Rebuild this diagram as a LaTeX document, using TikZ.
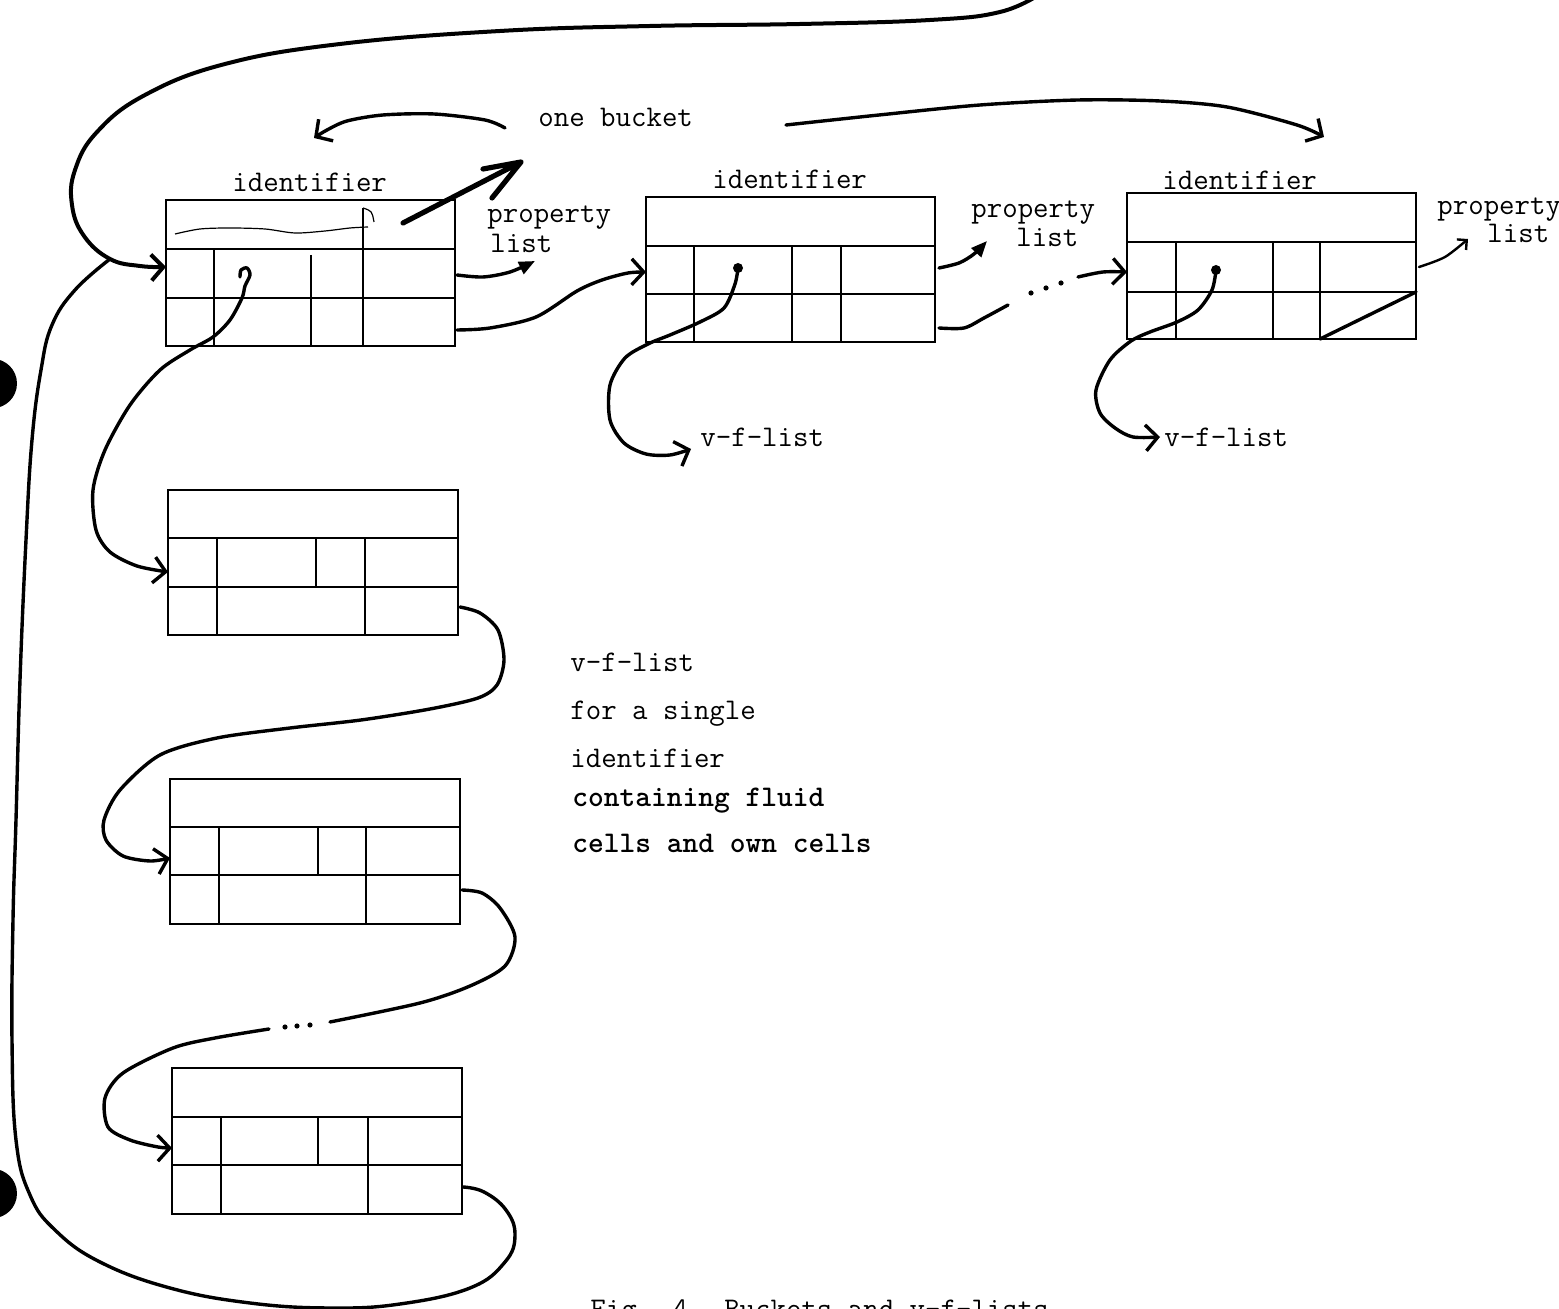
\documentclass[tikz,border=0pt]{standalone}
\usetikzlibrary{arrows.meta,fit}
\newcommand\bbox[5]{%
  \path (#2,#3) coordinate (#1nw) (#4,#5) coordinate (#1se);
  \node[boxline, fit=(#1nw)(#1se), inner sep=0pt] (#1) {};}
\begin{document}
\begin{tikzpicture}[x=0.5pt,y=-0.5pt,
  boxline/.style={draw, line width=1.3pt},
  gridline/.style={line width=1.3pt},
  hand/.style={line width=1.7pt, line cap=round, line join=round},
  barb/.style={-{Straight Barb[length=6pt,width=13pt]}},
  smallbarb/.style={-{Straight Barb[length=3.5pt,width=7pt]}},
  fillhead/.style={-{Triangle[length=8pt,width=6.5pt]}},
  lbl/.style={font=\ttfamily\fontsize{15}{18}\selectfont, inner sep=0pt, anchor=base west},
  blbl/.style={lbl, font=\ttfamily\bfseries\fontsize{15}{18}\selectfont},
]
\clip (0,0) rectangle (1559,1309);
\fill[white] (0,0) rectangle (1559,1309);

% punch holes
\fill (-7.7,383.5) circle[radius=12.35pt];
\fill (-7.7,1193.5) circle[radius=12.35pt];

% ---------- boxes ----------
\bbox{b1}{166}{200}{455}{346}
\draw[gridline] (166,249) -- (455,249) (166,298) -- (455,298)
  (214,249) -- (214,346) (311,255) -- (311,346) (363,249) -- (363,346);
\draw[line width=0.9pt] (363,208) -- (363,249);
\draw[line width=0.6pt] (363,208) .. controls (372,211) .. (374,222);
\draw[line width=0.6pt] plot[smooth] coordinates {(175,234) (200,229) (230,228) (265,229) (295,233) (325,231) (350,228) (368,227)};

\bbox{b2}{646}{197}{935}{342}
\draw[gridline] (646,246) -- (935,246) (646,294) -- (935,294)
  (694,246) -- (694,342) (792,246) -- (792,342) (841,246) -- (841,342);

\bbox{b3}{1127}{193}{1416}{339}
\draw[gridline] (1127,242) -- (1416,242) (1127,292) -- (1416,292)
  (1176,242) -- (1176,339) (1273,242) -- (1273,339) (1320,242) -- (1320,339);
\draw[hand] (1320,339) -- (1416,292);

\bbox{b4}{168}{490}{458}{635}
\draw[gridline] (168,538) -- (458,538) (168,587) -- (458,587)
  (217,538) -- (217,635) (316,538) -- (316,587) (365,538) -- (365,635);

\bbox{b5}{170}{779}{460}{924}
\draw[gridline] (170,827) -- (460,827) (170,875) -- (460,875)
  (219,827) -- (219,924) (318,827) -- (318,875) (366,827) -- (366,924);

\bbox{b6}{172}{1068}{462}{1214}
\draw[gridline] (172,1117) -- (462,1117) (172,1165) -- (462,1165)
  (221,1117) -- (221,1214) (318,1117) -- (318,1165) (368,1117) -- (368,1214);

% ---------- labels ----------
\node[lbl] (ob) at (538,127) {one bucket};
\node[lbl] (id1) at (232,192) {identifier};
\node[lbl] (id2) at (712,189) {identifier};
\node[lbl] (id3) at (1162,190) {identifier};
\node[lbl] (pl1a) at (487,223) {property};
\node[lbl] (pl1b) at (490,253) {list};
\node[lbl] (pl2a) at (971,218) {property};
\node[lbl] (pl2b) at (1016,247) {list};
\node[lbl] (pl3a) at (1437,215) {property};
\node[lbl] (pl3b) at (1487,243) {list};
\node[lbl] (vf1) at (700,447) {v-f-list};
\node[lbl] (vf2) at (1164,447) {v-f-list};
\node[lbl] (t1) at (570,672) {v-f-list};
\node[lbl] (t2) at (570,720) {for a single};
\node[lbl] (t3) at (570,768) {identifier};
\node[blbl] (t4) at (572,807) {containing fluid};
\node[blbl] (t5) at (572,853) {cells and own cells};
\node[lbl] (cap) at (590,1318) {Fig. 4. Buckets and v-f-lists};

% ---------- connector end points ----------
\coordinate (b1in) at (166,267);
\coordinate (b1pl) at (457,275);
\coordinate (b1out) at (457,330);
\coordinate (b1ptr) at (240,277);
\coordinate (b2in) at (646,272);
\coordinate (b2pl) at (939,268);
\coordinate (b2out) at (939,328);
\coordinate (b2ptr) at (738,268);
\coordinate (b3in) at (1127,272);
\coordinate (b3pl) at (1419,267);
\coordinate (b3ptr) at (1216,270);
\coordinate (b4in) at (168,572);
\coordinate (b4out) at (460,607);
\coordinate (b5in) at (170,858);
\coordinate (b5out) at (462,890);
\coordinate (b6in) at (172,1148);
\coordinate (b6out) at (463,1187);
\coordinate (topend) at (1040,-6);
\coordinate (join) at (110,259);
\coordinate (gapA) at (1008,305);
\coordinate (gapB) at (1078,277);
\coordinate (gapC) at (330,1022);
\coordinate (gapD) at (269,1029);
\coordinate (vf1tip) at (691,449);
\coordinate (vf2tip) at (1160,437);
\coordinate (pl1tip) at (535,261);
\coordinate (pl2tip) at (987,241);
\coordinate (pl3tip) at (1468,239);
\coordinate (obL) at (505,128);
\coordinate (obLtip) at (314,138);
\coordinate (obR) at (786,125);
\coordinate (obRtip) at (1324,137);
\coordinate (ta) at (403,223);
\coordinate (tb) at (521,162);

% ---------- connectors ----------
% top loop into first bucket element
\draw[hand, barb, line width=2pt] plot[smooth, tension=0.7] coordinates {(topend) (1000,12) (930,20) (800,24) (650,26) (500,31) (340,44) (225,64) (145,95) (97,132) (75,170) (72,205) (84,236) (join) (140,266) (b1in)};
% return loop from last v-f-list element
\draw[hand] plot[smooth, tension=0.7] coordinates {(b6out) (484,1192) (506,1210) (515,1235) (505,1262) (470,1288) (400,1304) (330,1308) (250,1303) (170,1288) (100,1262) (55,1230) (30,1195) (16,1140) (12,1040) (13,920) (16,820) (20,680) (26,540) (32,440) (41,370) (52,325) (75,290) (join)};

% property list arrows
\draw[hand, fillhead] plot[smooth] coordinates {(b1pl) (483,277) (510,272) (pl1tip)};
\draw[hand, fillhead] plot[smooth] coordinates {(b2pl) (959,263) (974,254) (pl2tip)};
\draw[hand, line width=1.2pt, smallbarb] plot[smooth] coordinates {(b3pl) (1445,257) (pl3tip)};

% bucket chain
\draw[hand, barb] plot[smooth] coordinates {(b1out) (490,328) (536,317) (577,291) (602,280) (628,273) (b2in)};
\draw[hand] plot[smooth] coordinates {(b2out) (964,328) (984,318) (gapA)};
\fill (1031,293) circle[radius=1.3pt] (1046,288) circle[radius=1.3pt] (1061,283) circle[radius=1.3pt];
\draw[hand, barb] plot[smooth] coordinates {(gapB) (1103,272) (b3in)};

% thick arrow to "one bucket"
\draw[hand, line width=2.6pt] (ta) -- (tb) (483,169) -- (tb) -- (492,198);

% one bucket arrows
\draw[hand, barb] plot[smooth] coordinates {(obL) (485,120) (434,114) (383,115) (347,121) (327,130) (obLtip)};
\draw[hand, barb] plot[smooth] coordinates {(obR) (879,115) (980,105) (1078,100) (1160,101) (1227,107) (1297,125) (obRtip)};

% pointers to v-f-lists
\draw[hand, barb] plot[smooth] coordinates {(b1ptr) (241,270) (247,268) (250,275) (245,286) (242,298) (230,320) (213,337) (190,350) (160,370) (130,405) (105,450) (93,490) (96,530) (110,552) (137,566) (b4in)};
\fill (b2ptr) circle[radius=2.5pt];
\draw[hand, barb] plot[smooth] coordinates {(b2ptr) (735,284) (724,308) (700,322) (670,335) (648,344) (625,358) (610,385) (610,420) (624,443) (646,454) (670,455) (vf1tip)};
\fill (b3ptr) circle[radius=2.5pt];
\draw[hand, barb] plot[smooth] coordinates {(b3ptr) (1212,290) (1198,310) (1177,322) (1150,332) (1131,341) (1110,360) (1096,390) (1100,413) (1115,428) (1133,437) (vf2tip)};

% v-f-list chain
\draw[hand, barb] plot[smooth] coordinates {(b4out) (480,613) (498,630) (504,660) (497,685) (478,698) (430,709) (361,720) (290,728) (217,738) (160,755) (120,790) (104,820) (106,840) (123,856) (150,861) (b5in)};
\draw[hand] plot[smooth] coordinates {(b5out) (482,893) (500,908) (515,937) (505,966) (470,986) (420,1003) (gapC)};
\fill (285,1027) circle[radius=1.3pt] (297,1026) circle[radius=1.3pt] (310,1025) circle[radius=1.3pt];
\draw[hand, barb] plot[smooth] coordinates {(gapD) (215,1038) (173,1048) (123,1073) (105,1098) (108,1127) (130,1140) (158,1147) (b6in)};
\end{tikzpicture}
\end{document}
